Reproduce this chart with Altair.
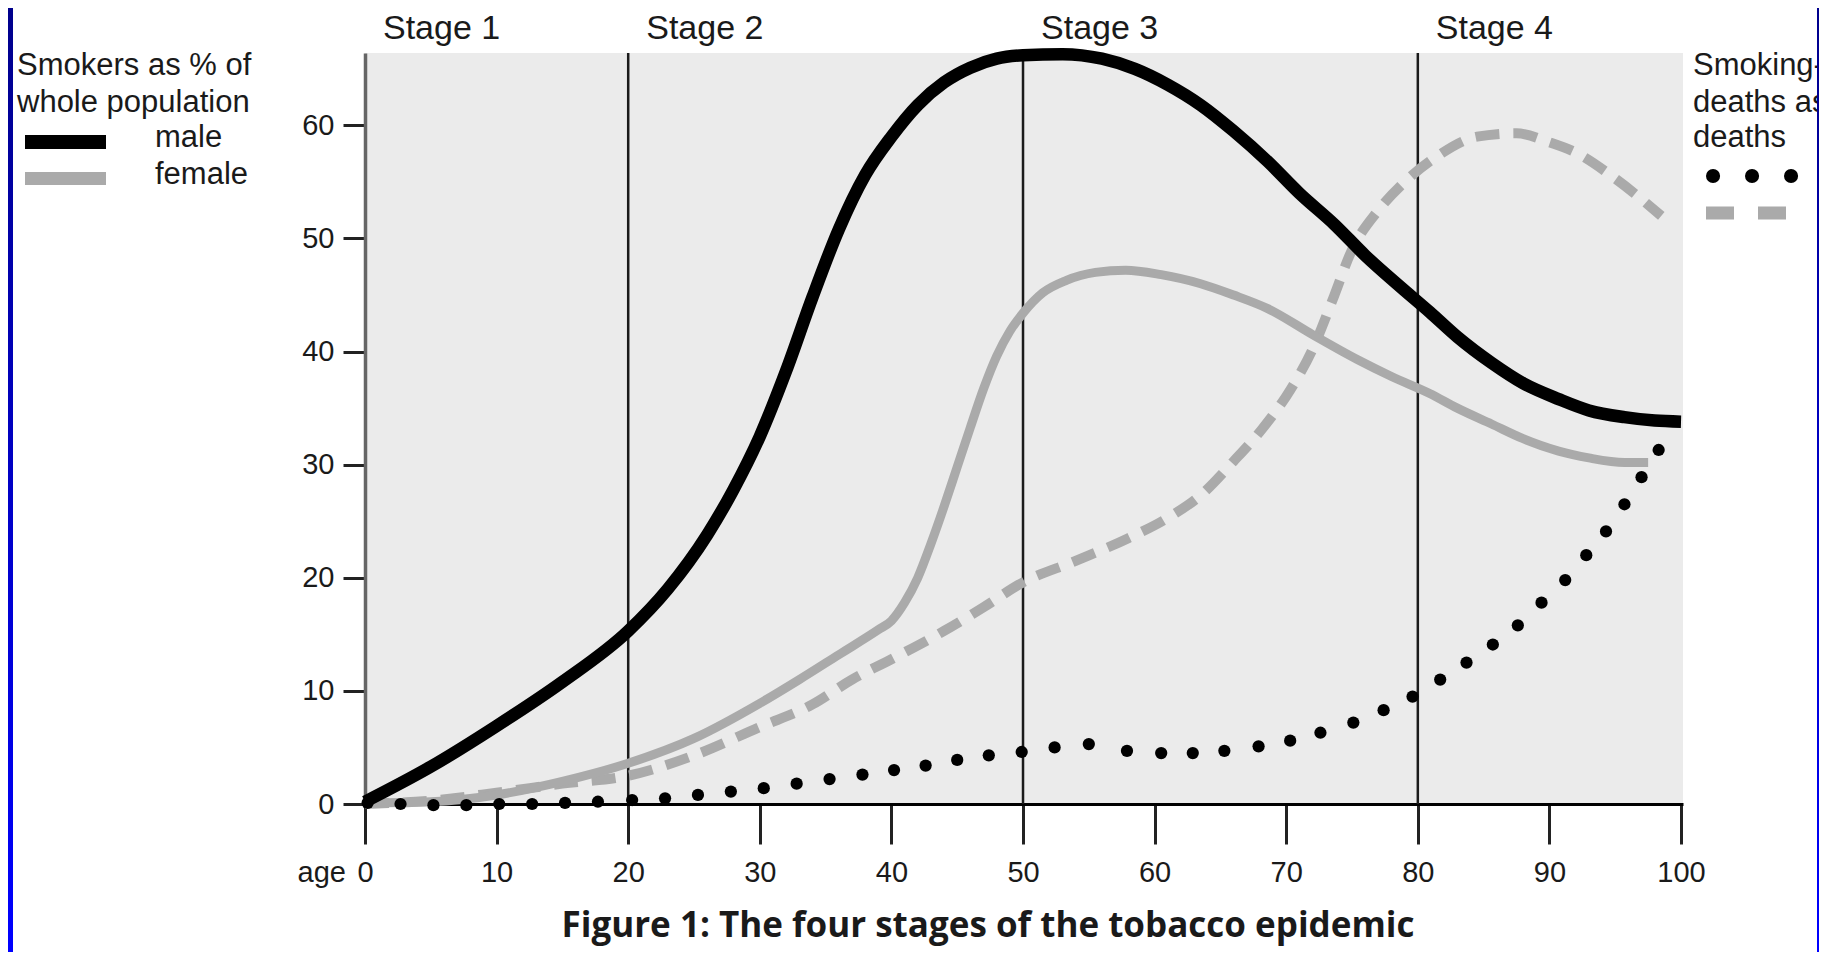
import altair as alt
import pandas as pd

# ---------------- data ----------------
male_age = [0, 5, 10, 15, 20, 23, 26, 28, 30, 32, 34, 36, 38, 40, 42, 44, 46, 48, 50, 53, 56,
            58.5, 61, 63.5, 66, 68.6, 71, 73.7, 76, 78.8, 80.9, 83, 85.6, 88, 90.7, 93, 95.7, 98,
            100]
male_val = [0.2, 3.3, 6.9, 10.8, 15.3, 19.0, 23.8, 27.8, 32.5, 38.3, 44.8, 50.8, 55.6, 59.0, 61.8,
            63.8, 65.1, 65.9, 66.2, 66.3, 65.9, 65.0, 63.6, 61.8, 59.5, 56.8, 54.0, 51.2, 48.5,
            45.6, 43.5, 41.3, 39.0, 37.2, 35.8, 34.8, 34.2, 33.9, 33.8]

female_age = [0, 5, 10, 15, 20, 25, 30, 33, 36, 39, 40, 41, 42, 43, 44, 45, 46, 47, 48, 49, 50,
              51.5, 53.3, 55.5, 57.8, 60.5, 63.5, 66, 68.6, 72, 75.4, 78, 80.9, 83, 85.6, 88,
              90.7, 93, 95.7, 97.5]
female_val = [0.1, 0.2, 0.8, 2.0, 3.6, 5.8, 8.9, 11.0, 13.2, 15.4, 16.2, 17.8, 20.0, 23.0, 26.3,
              29.8, 33.3, 36.7, 39.6, 41.8, 43.4, 45.2, 46.3, 47.0, 47.2, 46.8, 46.0, 45.0, 43.8,
              41.5, 39.3, 37.8, 36.3, 35.0, 33.6, 32.3, 31.2, 30.6, 30.2, 30.2]

fdeath_age = [0, 5, 10, 15, 20, 25, 30, 34, 37, 40, 44, 47, 50, 54, 58, 61, 63.5, 66, 68.2, 70.3,
              72, 73.5, 75, 77, 79, 81.5, 84.5, 87.5, 90, 92, 95, 98.5]
fdeath_val = [0, 0.3, 1.0, 1.8, 2.5, 4.3, 6.8, 8.8, 11.0, 12.8, 15.3, 17.4, 19.6, 21.5, 23.5, 25.3,
              27.3, 30.3, 33.2, 36.6, 40.2, 44.5, 49.0, 52.5, 55.0, 57.3, 59.0, 59.3, 58.5, 57.6,
              55.3, 52.0]

mdeath_age = [0.2, 2.7, 5.2, 7.7, 10.2, 12.7, 15.2, 17.7, 20.3, 22.8, 25.3, 27.8, 30.3, 32.8, 35.3,
              37.8, 40.2, 42.6, 45.0, 47.4, 49.9, 52.4, 55.0, 57.9, 60.5, 62.9, 65.3, 67.9, 70.3,
              72.6, 75.1, 77.4, 79.6, 81.7, 83.7, 85.7, 87.6, 89.4, 91.2, 92.8, 94.3, 95.7, 97.0,
              98.3]
mdeath_val = [0.1, 0, -0.1, -0.1, 0, 0, 0.1, 0.2, 0.35, 0.5, 0.8, 1.1, 1.4, 1.8, 2.2, 2.6, 3.0,
              3.4, 3.9, 4.3, 4.6, 5.0, 5.3, 4.7, 4.5, 4.5, 4.7, 5.1, 5.6, 6.3, 7.2, 8.3, 9.5, 11.0,
              12.5, 14.1, 15.8, 17.8, 19.8, 22.0, 24.1, 26.5, 28.9, 31.3]

stage_lines = [20, 50, 80]
stage_starts = [0, 20, 50, 80]
stage_labels = ["Stage 1", "Stage 2", "Stage 3", "Stage 4"]
x_ticks = [0, 10, 20, 30, 40, 50, 60, 70, 80, 90, 100]
y_ticks = [0, 10, 20, 30, 40, 50, 60]

left_legend_title = ["Smokers as % of", "whole population"]
left_legend_items = ["male", "female"]
right_legend_title = ["Smoking-attributable", "deaths as % of all", "deaths"]
caption = "Figure 1: The four stages of the tobacco epidemic"

# ---------------- layout ----------------
W, H = 1318, 751
PAD = {"left": 357, "top": 45, "right": 136, "bottom": 148}
FONT = "Liberation Sans"
GREY = "#aaaaaa"

XS = alt.Scale(domain=[0, 100.15], nice=False, zero=False)
YS = alt.Scale(domain=[0, 66.4], nice=False)
X_AX = alt.Axis(values=x_ticks, title=None, grid=False, domainColor="#000000", domainWidth=3,
                tickColor="#222222", tickWidth=3, tickSize=40, labelFontSize=29, labelFont=FONT,
                labelColor="#1a1a1a", labelPadding=14, labelFlush=False, labelOverlap=False)
Y_AX = alt.Axis(values=y_ticks, title=None, grid=False, domainColor="#666666", domainWidth=3.5,
                tickColor="#222222", tickWidth=3, tickSize=22, labelFontSize=29, labelFont=FONT,
                labelColor="#1a1a1a", labelPadding=9)


def xy(df_x="age", df_y="val"):
    return dict(x=alt.X(f"{df_x}:Q", scale=XS, axis=X_AX),
                y=alt.Y(f"{df_y}:Q", scale=YS, axis=Y_AX))


one = pd.DataFrame({"a": [0]})
blue = alt.LinearGradient(gradient="linear",
                          stops=[alt.GradientStop(color="#00008c", offset=0),
                                 alt.GradientStop(color="#0000ff", offset=1)],
                          x1=0, x2=0, y1=0, y2=1)

def strip(x0, x1):
    return alt.Chart(one).mark_rect(color=blue).encode(
        x=alt.value(x0), x2=alt.value(x1), y=alt.value(-PAD["top"]), y2=alt.value(H + PAD["bottom"]))

male_df = pd.DataFrame({"age": male_age, "val": male_val})
female_df = pd.DataFrame({"age": female_age, "val": female_val})
fdeath_df = pd.DataFrame({"age": fdeath_age, "val": fdeath_val})
mdeath_df = pd.DataFrame({"age": mdeath_age, "val": mdeath_val})
rules_df = pd.DataFrame({"age": stage_lines})
stage_df = pd.DataFrame({"age": stage_starts, "label": stage_labels})

rules = alt.Chart(rules_df).mark_rule(color="#1a1a1a", strokeWidth=2.5).encode(
    x=alt.X("age:Q", scale=XS, axis=X_AX))

fdeath = alt.Chart(fdeath_df).mark_line(color=GREY, strokeWidth=10, strokeDash=[24, 14],
                                        interpolate="monotone", strokeCap="butt").encode(**xy())
female = alt.Chart(female_df).mark_line(color=GREY, strokeWidth=9,
                                        interpolate="monotone").encode(**xy())
male = alt.Chart(male_df).mark_line(color="#000000", strokeWidth=12.5,
                                    interpolate="monotone").encode(**xy())
mdeath = alt.Chart(mdeath_df).mark_circle(color="#000000", size=150, opacity=1).encode(**xy())

stages = alt.Chart(stage_df).mark_text(align="left", baseline="middle", fontSize=34, font=FONT,
                                       dx=18, color="#1a1a1a").encode(
    x=alt.X("age:Q", scale=XS, axis=X_AX), y=alt.value(-24), text="label:N")

age_txt = alt.Chart(pd.DataFrame({"age": [0], "t": ["age"]})).mark_text(
    align="right", baseline="middle", fontSize=29, font=FONT, dx=-19, color="#1a1a1a").encode(
    x=alt.X("age:Q", scale=XS, axis=X_AX), y=alt.value(820), text="t:N")


def label(txt, x, y, size=31, align="left", font=FONT, weight="normal", baseline="alphabetic"):
    return alt.Chart(pd.DataFrame({"t": [txt]})).mark_text(
        align=align, baseline=baseline, fontSize=size, font=font, fontWeight=weight,
        color="#1a1a1a").encode(x=alt.value(x), y=alt.value(y), text="t:N")


legend = [
    label(left_legend_title[0], -348, 22),
    label(left_legend_title[1], -348, 59),
    label(left_legend_items[0], -210, 94),
    label(left_legend_items[1], -210, 131),
    alt.Chart(one).mark_rect(color="#000000").encode(
        x=alt.value(-340), x2=alt.value(-259), y=alt.value(82), y2=alt.value(96)),
    alt.Chart(one).mark_rect(color=GREY).encode(
        x=alt.value(-340), x2=alt.value(-259), y=alt.value(119), y2=alt.value(132)),
    label(right_legend_title[0], 1328, 22),
    label(right_legend_title[1], 1328, 59),
    label(right_legend_title[2], 1328, 94),
    alt.Chart(one).mark_rule(color="#000000", strokeWidth=14, strokeCap="round",
                             strokeDash=[0.1, 38.9]).encode(
        x=alt.value(1348), x2=alt.value(1432), y=alt.value(123)),
    alt.Chart(one).mark_rule(color=GREY, strokeWidth=13, strokeCap="butt",
                             strokeDash=[28, 24]).encode(
        x=alt.value(1341), x2=alt.value(1422), y=alt.value(160)),
    label(caption, 623, 873, size=35, align="center", font="Open Sans", weight="bold",
          baseline="middle"),
]

chart = alt.layer(
    rules, fdeath, female, male, mdeath, stages, age_txt, *legend,
    strip(-PAD["left"], -352), strip(1452, 1470),
).properties(
    width=W, height=H, padding=PAD, autosize=alt.AutoSizeParams(type="none"),
    background="#ffffff",
).configure_view(fill="#ebebeb", stroke=None)

chart.save("out.html", embed_options={"renderer": "svg", "actions": False})
